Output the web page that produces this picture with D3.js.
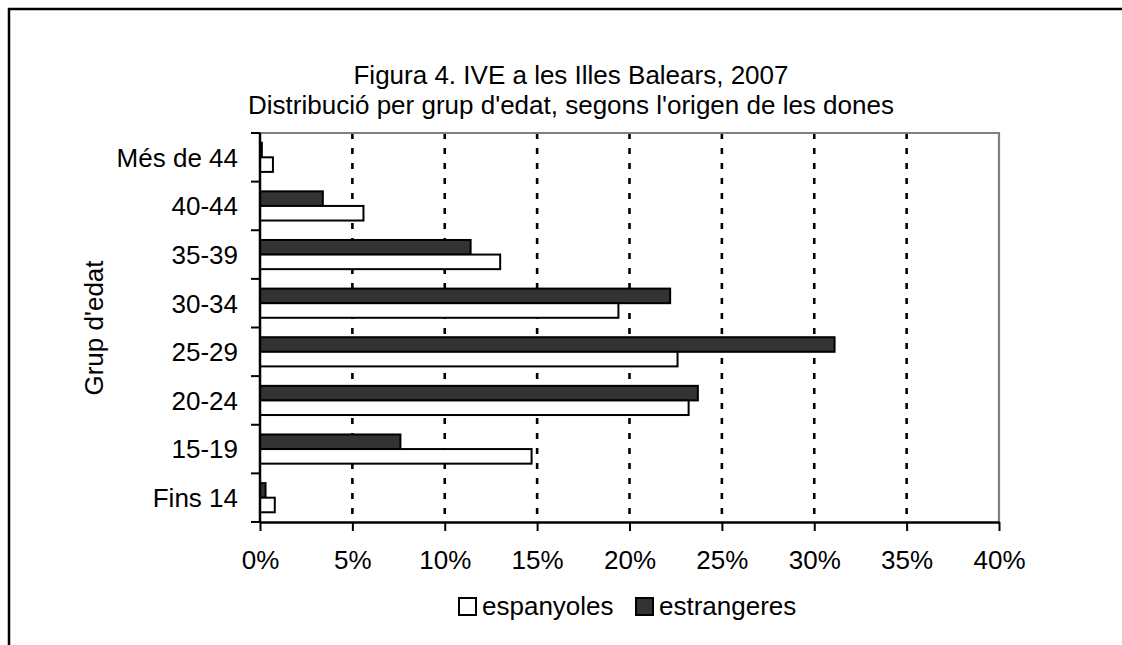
<!DOCTYPE html>
<html>
<head>
<meta charset="utf-8">
<script src="https://cdn.jsdelivr.net/npm/d3@7"></script>
<style>
  html, body { margin: 0; padding: 0; background: #fff; }
  svg { display: block; }
  text { font-family: "Liberation Sans", Arial, Helvetica, sans-serif; fill: #000; }
</style>
</head>
<body>
<svg id="chart" width="1122" height="645"></svg>
<script>
const categories = ["Més de 44", "40-44", "35-39", "30-34", "25-29", "20-24", "15-19", "Fins 14"];
const espanyoles = [0.7, 5.6, 13.0, 19.4, 22.6, 23.2, 14.7, 0.8];
const estrangeres = [0.1, 3.4, 11.4, 22.2, 31.1, 23.7, 7.6, 0.3];
const seriesNames = ["estrangeres", "espanyoles"];
const seriesColors = {estrangeres: "#333333", espanyoles: "#ffffff"};
const xTicks = [0, 5, 10, 15, 20, 25, 30, 35, 40];
const titleLines = ["Figura 4. IVE a les Illes Balears, 2007", "Distribució per grup d'edat, segons l'origen de les dones"];
const yTitle = "Grup d'edat";

const svg = d3.select("#chart");
const FS = 26;

// outer frame (extends beyond the visible image on right & bottom)
svg.append("rect").attr("x", 9).attr("y", 9).attr("width", 1300).attr("height", 900)
  .attr("fill", "none").attr("stroke", "#000").attr("stroke-width", 2.5);

const L = 260, R = 999, T = 133, B = 522;
const x = d3.scaleLinear().domain([0, 40]).range([L, R]);
const y = d3.scaleBand().domain(categories).range([T, B]).paddingInner(0.4).paddingOuter(0.2);
const ySub = d3.scaleBand().domain(seriesNames).range([0, y.bandwidth()]);

// gridlines
svg.append("g").selectAll("line").data(xTicks.filter(d => d > 0 && d < 40)).join("line")
  .attr("x1", d => x(d)).attr("x2", d => x(d)).attr("y1", T).attr("y2", B)
  .attr("stroke", "#000").attr("stroke-width", 2.6).attr("stroke-dasharray", "6,9");

// plot frame top/right (gray)
svg.append("path").attr("d", `M${L},${T}H${R}V${B}`).attr("fill", "none")
  .attr("stroke", "#808080").attr("stroke-width", 2.2);

// bars
const rows = categories.map((c, i) => ({cat: c, estrangeres: estrangeres[i], espanyoles: espanyoles[i]}));
const g = svg.append("g");
rows.forEach(r => {
  seriesNames.forEach(s => {
    g.append("rect")
      .attr("x", x(0))
      .attr("y", y(r.cat) + ySub(s))
      .attr("width", x(r[s]) - x(0))
      .attr("height", ySub.bandwidth())
      .attr("fill", seriesColors[s])
      .attr("stroke", "#000").attr("stroke-width", 2);
  });
});

// axes
const xAxis = d3.axisBottom(x).tickValues(xTicks).tickFormat(d => d + "%").tickSizeInner(9).tickSizeOuter(0).tickPadding(20);
const gx = svg.append("g").attr("transform", `translate(0,${B})`).call(xAxis);
gx.select(".domain").attr("stroke", "#000").attr("stroke-width", 2.5);
gx.selectAll(".tick line").attr("stroke", "#000").attr("stroke-width", 2);
gx.selectAll(".tick text").attr("font-size", FS).attr("font-family", null).attr("dy", "0.71em");

const yBoundary = d3.scaleLinear().domain([0, categories.length]).range([T, B]);
const gy = svg.append("g");
gy.append("line").attr("x1", L).attr("x2", L).attr("y1", T).attr("y2", B).attr("stroke", "#000").attr("stroke-width", 2.5);
gy.selectAll("line.tk").data(d3.range(categories.length + 1)).join("line").attr("class", "tk")
  .attr("x1", L - 9).attr("x2", L).attr("y1", d => yBoundary(d)).attr("y2", d => yBoundary(d))
  .attr("stroke", "#000").attr("stroke-width", 2);
gy.selectAll("text").data(categories).join("text")
  .attr("x", 238).attr("y", d => y(d) + y.bandwidth() / 2).attr("dy", "0.36em")
  .attr("text-anchor", "end").attr("font-size", FS).text(d => d);

// titles
svg.selectAll("text.title").data(titleLines).join("text").attr("class", "title")
  .attr("x", 571).attr("y", (d, i) => 84 + i * 30).attr("text-anchor", "middle")
  .attr("font-size", FS).text(d => d);

svg.append("text").attr("transform", "translate(103,328) rotate(-90)")
  .attr("text-anchor", "middle").attr("font-size", FS).text(yTitle);

// legend
const legendItems = ["espanyoles", "estrangeres"];
const legendX = [459, 636];
legendItems.forEach((s, i) => {
  svg.append("rect").attr("x", legendX[i]).attr("y", 598).attr("width", 17).attr("height", 17)
    .attr("fill", seriesColors[s]).attr("stroke", "#000").attr("stroke-width", 2);
  svg.append("text").attr("x", legendX[i] + 23).attr("y", 615).attr("font-size", FS).text(s);
});
</script>
</body>
</html>
